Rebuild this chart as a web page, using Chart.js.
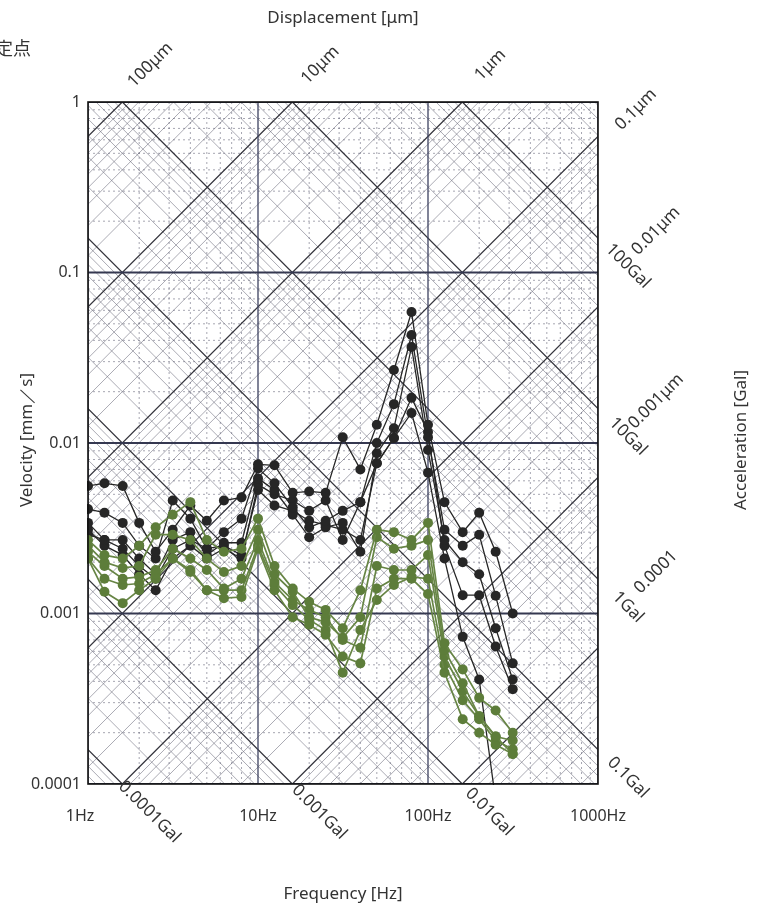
<!DOCTYPE html>
<html>
<head>
<meta charset="utf-8">
<script src="https://cdn.jsdelivr.net/npm/chart.js@4"></script>
<style>
  body { margin: 0; background: #fff; }
  canvas { display: block; }
</style>
</head>
<body>
<canvas id="vibChart" width="763" height="912"></canvas>
<script>
// 1/3 octave band centre frequencies [Hz]
const freqHz = [1, 1.25, 1.6, 2, 2.5, 3.15, 4, 5, 6.3, 8, 10, 12.5, 16, 20, 25, 31.5, 40, 50, 63, 80, 100, 125, 160, 200, 250, 315];

// velocity [mm/s], black traces
const black1 = [0.0056, 0.0058, 0.0056, 0.0034, 0.0023, 0.0031, 0.0043, 0.0035, 0.0046, 0.0048, 0.0075, 0.0074, 0.0051, 0.0052, 0.0051, 0.0108, 0.0070, 0.0128, 0.0268, 0.0587, 0.0128, 0.0045, 0.0030, 0.0039, 0.0023, 0.0010];
const black2 = [0.0041, 0.0039, 0.0034, 0.0025, 0.0021, 0.0046, 0.0036, 0.0024, 0.0030, 0.0036, 0.0071, 0.0058, 0.0042, 0.0032, 0.0035, 0.0040, 0.0045, 0.0100, 0.0169, 0.0430, 0.0108, 0.0031, 0.0025, 0.0029, 0.00127, 0.00051];
const black3 = [0.0034, 0.0027, 0.0027, 0.0021, 0.0017, 0.0027, 0.0030, 0.0022, 0.0026, 0.0026, 0.0062, 0.0053, 0.0038, 0.0028, 0.0032, 0.0034, 0.0023, 0.0087, 0.0122, 0.0366, 0.0091, 0.0027, 0.0020, 0.0017, 0.00082, 0.00041];
const black4 = [0.0031, 0.0025, 0.0022, 0.0017, 0.00137, 0.0021, 0.0025, 0.0021, 0.0024, 0.0021, 0.0057, 0.0050, 0.0046, 0.0040, 0.0046, 0.0027, 0.0045, 0.0076, 0.0107, 0.0184, 0.0116, 0.0025, 0.00128, 0.00128, 0.00064, 0.00036];
const black5 = [0.0029, 0.0027, 0.0024, 0.0019, 0.0016, 0.0024, 0.0027, 0.0024, 0.0025, 0.0022, 0.0053, 0.0043, 0.0040, 0.0035, 0.0033, 0.0031, 0.0027, 0.0076, 0.0107, 0.0150, 0.0067, 0.0021, 0.00073, 0.00041, 0.00008, null];

// velocity [mm/s], green traces
const green1 = [0.0027, 0.0022, 0.0021, 0.0025, 0.0032, 0.0038, 0.0045, 0.0027, 0.0023, 0.0024, 0.0036, 0.0019, 0.0014, 0.00117, 0.00105, 0.00082, 0.00137, 0.0031, 0.0030, 0.0027, 0.0034, 0.00067, 0.00047, 0.00032, 0.00027, 0.00020];
const green2 = [0.0025, 0.0020, 0.00185, 0.0019, 0.0029, 0.0029, 0.0027, 0.0021, 0.00175, 0.0019, 0.0031, 0.0017, 0.00134, 0.00095, 0.00089, 0.00072, 0.00095, 0.0028, 0.0024, 0.0025, 0.0027, 0.00061, 0.00039, 0.00025, 0.00019, 0.00018];
const green3 = [0.0023, 0.0019, 0.0016, 0.00164, 0.0018, 0.0024, 0.0021, 0.0018, 0.0014, 0.0016, 0.0027, 0.00153, 0.0012, 0.00105, 0.00095, 0.00070, 0.00063, 0.0019, 0.0018, 0.0018, 0.0022, 0.00056, 0.00035, 0.00025, 0.00019, 0.00015];
const green4 = [0.0021, 0.0016, 0.00147, 0.0015, 0.0017, 0.0021, 0.0018, 0.00137, 0.00123, 0.00125, 0.0024, 0.00137, 0.00095, 0.00086, 0.00075, 0.00056, 0.00051, 0.0014, 0.0016, 0.0016, 0.0013, 0.00045, 0.00024, 0.00020, 0.00017, 0.00015];
const green5 = [0.0021, 0.00134, 0.00115, 0.00137, 0.0016, 0.0021, 0.00175, 0.00137, 0.00137, 0.00137, 0.0025, 0.00147, 0.00112, 0.00092, 0.00080, 0.00045, 0.00080, 0.0012, 0.00147, 0.00164, 0.0016, 0.00050, 0.00031, 0.00024, 0.00018, 0.00016];

// axis ticks
const freqTicks = [1, 10, 100, 1000];
const freqTickLabels = ['1Hz', '10Hz', '100Hz', '1000Hz'];
const velTicks = [1, 0.1, 0.01, 0.001, 0.0001];
const velTickLabels = ['1', '0.1', '0.01', '0.001', '0.0001'];

// displacement lines [µm] and their labels (top edge, then right edge)
const dispTopUm = [100, 10, 1];
const dispTopLabels = ['100μm', '10μm', '1μm'];
const dispRightUm = [0.1, 0.01, 0.001, 0.0001];
const dispRightLabels = ['0.1μm', '0.01μm', '0.001μm', '0.0001'];

// acceleration lines [Gal] and their labels (right edge, then bottom edge)
const accRightGal = [100, 10, 1, 0.1];
const accRightLabels = ['100Gal', '10Gal', '1Gal', '0.1Gal'];
const accBottomGal = [0.0001, 0.001, 0.01];
const accBottomLabels = ['0.0001Gal', '0.001Gal', '0.01Gal'];

const BLACK = '#262626';
const GREEN = '#5d7d3a';
const TEXT = '#333333';
const FONT = '"Noto Sans", "DejaVu Sans", sans-serif';

function makeSeries(values) {
    return freqHz.map((f, i) => ({ x: f, y: values[i] }));
}

function blackSet(values) {
    return {
        data: makeSeries(values),
        borderColor: BLACK,
        backgroundColor: BLACK,
        borderWidth: 1.3,
        pointRadius: 5,
        pointBorderWidth: 0,
        clip: 1
    };
}

function greenSet(values) {
    return {
        data: makeSeries(values),
        borderColor: '#678545',
        backgroundColor: GREEN,
        borderWidth: 1.7,
        pointRadius: 5,
        pointBorderWidth: 0,
        clip: 1
    };
}

// velocity from displacement [mm] or acceleration [mm/s2]
const velFromDisp = (f, dMm) => 2 * Math.PI * f * dMm;
const velFromAcc = (f, aMm) => aMm / (2 * Math.PI * f);

function drawText(ctx, text, px, py, angle, align) {
    ctx.save();
    ctx.translate(px, py);
    ctx.rotate(angle);
    ctx.textAlign = align || 'center';
    ctx.textBaseline = 'middle';
    ctx.fillText(text, 0, 0);
    ctx.restore();
}

const tripartitePlugin = {
    id: 'tripartite',
    beforeDraw(chart) {
        const ctx = chart.ctx;
        ctx.save();
        ctx.fillStyle = '#fff';
        ctx.fillRect(0, 0, chart.width, chart.height);
        ctx.restore();
    },
    beforeDatasetsDraw(chart) {
        const { ctx, chartArea: a, scales: { x, y } } = chart;
        const seg = (f1, v1, f2, v2) => {
            ctx.moveTo(x.getPixelForValue(f1), y.getPixelForValue(v1));
            ctx.lineTo(x.getPixelForValue(f2), y.getPixelForValue(v2));
        };
        ctx.save();
        ctx.beginPath();
        ctx.rect(a.left, a.top, a.right - a.left, a.bottom - a.top);
        ctx.clip();

        // minor diagonal lines (2..9 x decade)
        ctx.beginPath();
        for (let e = -9; e <= 4; e++) {
            for (let k = 2; k <= 9; k++) {
                const d = k * Math.pow(10, e);
                seg(0.1, velFromDisp(0.1, d), 10000, velFromDisp(10000, d));
                seg(0.1, velFromAcc(0.1, d), 10000, velFromAcc(10000, d));
            }
        }
        ctx.strokeStyle = 'rgba(105,105,120,0.7)';
        ctx.lineWidth = 0.8;
        ctx.stroke();

        // minor vertical / horizontal dotted lines
        ctx.beginPath();
        for (let e = 0; e < 3; e++) {
            for (let k = 2; k <= 9; k++) {
                const f = k * Math.pow(10, e);
                seg(f, 0.0001, f, 1);
            }
        }
        for (let e = -4; e < 0; e++) {
            for (let k = 2; k <= 9; k++) {
                const v = k * Math.pow(10, e);
                seg(1, v, 1000, v);
            }
        }
        ctx.setLineDash([2, 3]);
        ctx.strokeStyle = 'rgba(90,90,110,0.6)';
        ctx.lineWidth = 0.9;
        ctx.stroke();
        ctx.setLineDash([]);

        // major diagonal lines
        ctx.beginPath();
        for (let e = -9; e <= 4; e++) {
            const d = Math.pow(10, e);
            seg(0.1, velFromDisp(0.1, d), 10000, velFromDisp(10000, d));
            seg(0.1, velFromAcc(0.1, d), 10000, velFromAcc(10000, d));
        }
        ctx.strokeStyle = '#34343c';
        ctx.lineWidth = 1.3;
        ctx.stroke();

        // decade grid lines
        ctx.beginPath();
        freqTicks.forEach(f => seg(f, 0.0001, f, 1));
        ctx.strokeStyle = '#3e4260';
        ctx.lineWidth = 1.3;
        ctx.stroke();
        ctx.beginPath();
        velTicks.forEach(v => seg(1, v, 1000, v));
        ctx.strokeStyle = '#353850';
        ctx.lineWidth = 2;
        ctx.stroke();
        ctx.restore();
    },
    afterDraw(chart) {
        const { ctx, chartArea: a, scales: { x, y } } = chart;
        const q = Math.PI / 4;
        ctx.save();
        ctx.strokeStyle = '#111';
        ctx.lineWidth = 1.6;
        ctx.strokeRect(a.left, a.top, a.right - a.left, a.bottom - a.top);

        ctx.fillStyle = TEXT;
        ctx.font = '16px ' + FONT;
        velTicks.forEach((v, i) => {
            drawText(ctx, velTickLabels[i], a.left - 7, y.getPixelForValue(v), 0, 'right');
        });
        freqTicks.forEach((f, i) => {
            const shift = i === 0 ? -8 : 0;
            drawText(ctx, freqTickLabels[i], x.getPixelForValue(f) + shift, a.bottom + 32, 0);
        });

        // displacement labels along the rising diagonals
        ctx.font = '17px ' + FONT;
        dispTopUm.forEach((d, i) => {
            const f = 1 / (2 * Math.PI * d / 1000);
            const px = x.getPixelForValue(f);
            drawText(ctx, dispTopLabels[i], px + 28, a.top - 37, -q);
        });
        dispRightUm.forEach((d, i) => {
            const py = y.getPixelForValue(velFromDisp(1000, d / 1000));
            const dx = i === 0 ? 38 : 58;
            const dy = i === 0 ? -27 : -76;
            drawText(ctx, dispRightLabels[i], a.right + dx, py + dy, -q);
        });

        // acceleration labels along the falling diagonals
        accRightGal.forEach((g, i) => {
            const py = y.getPixelForValue(velFromAcc(1000, g * 10));
            drawText(ctx, accRightLabels[i], a.right + 30, py + 28, q);
        });
        accBottomGal.forEach((g, i) => {
            const f = g * 10 / (2 * Math.PI * 0.0001);
            const px = x.getPixelForValue(f);
            drawText(ctx, accBottomLabels[i], px + 27, a.bottom + 28, q);
        });

        // axis titles
        const cx = (a.left + a.right) / 2;
        drawText(ctx, 'Displacement [μm]', cx, 18, 0);
        drawText(ctx, 'Frequency [Hz]', cx, 894, 0);
        drawText(ctx, 'Velocity [mm／s]', 27, 440, -Math.PI / 2);
        drawText(ctx, 'Acceleration [Gal]', 741, 440, -Math.PI / 2);

        ctx.font = '18px "Noto Sans CJK JP", sans-serif';
        drawText(ctx, '定点', 31, 48, 0, 'right');
        ctx.restore();
    }
};

const datasets = [
    greenSet(green1), greenSet(green2), greenSet(green3), greenSet(green4), greenSet(green5),
    blackSet(black1), blackSet(black2), blackSet(black3), blackSet(black4), blackSet(black5)
];

new Chart(document.getElementById('vibChart'), {
    type: 'line',
    data: { datasets: datasets },
    options: {
        responsive: false,
        animation: false,
        devicePixelRatio: 1,
        layout: { padding: { left: 88, right: 165, top: 102, bottom: 128 } },
        plugins: { legend: { display: false }, tooltip: { enabled: false } },
        elements: { line: { tension: 0 } },
        scales: {
            x: { type: 'logarithmic', min: 1, max: 1000, display: false },
            y: { type: 'logarithmic', min: 0.0001, max: 1, display: false }
        }
    },
    plugins: [tripartitePlugin]
});
</script>
</body>
</html>
